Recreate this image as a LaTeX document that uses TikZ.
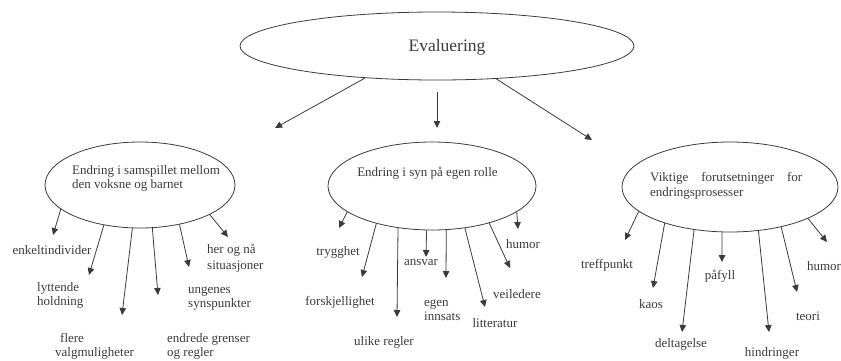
\documentclass[tikz,border=0pt]{standalone}
\usepackage{fontspec}
\setmainfont{Liberation Serif}
\usetikzlibrary{arrows.meta,shapes.geometric}
\definecolor{ink}{HTML}{3A3A3A}
\begin{document}
\begin{tikzpicture}[x=1pt,y=-1pt,
  ell/.style={draw=ink, line width=0.8pt, ellipse, inner sep=0pt},
  lbl/.style={text=ink, font=\fontsize{13}{14.5}\selectfont, inner sep=0pt, align=left},
  arr/.style={draw=ink, line width=0.8pt, -{Triangle[length=7pt,width=6.5pt]}}]
\useasboundingbox (0,0) rectangle (841,360);

% ellipses
\node[ell, minimum width=394pt, minimum height=68pt] (E) at (437,46) {};
\node[lbl, font=\fontsize{17.5}{20}\selectfont] (Et) at (447,47) {Evaluering};
\node[ell, minimum width=190pt, minimum height=86pt] (L) at (140,185) {};
\node[lbl, anchor=west, font=\fontsize{13}{13.5}\selectfont] (Lt) at (72,178.5) {Endring i samspillet mellom\\den voksne og barnet};
\node[ell, minimum width=208pt, minimum height=88pt] (M) at (432,186) {};
\node[lbl] (Mt) at (427.5,173) {Endring i syn på egen rolle};
\node[ell, minimum width=216pt, minimum height=90pt] (R) at (730,187) {};
\node[lbl, anchor=west, font=\fontsize{13}{15}\selectfont] (Rt) at (650,185.5) {\makebox[152pt][s]{Viktige forutsetninger for}\\endringsprosesser};

% top arrows
\coordinate (Ea) at (275,128);
\coordinate (Eb) at (437,128);
\coordinate (Ec) at (592,140);
\draw[arr] (E.-156.7) -- (Ea);
\draw[arr] ([yshift=-12pt]E.south) -- (Eb);
\draw[arr] (E.-29.5) -- (Ec);

% left arrows
\foreach \a/\x/\y [count=\i] in {-163.4/53/235, -132.1/89/275, -100.8/122/315, -74.1/158/295, -45/189/267, -23/228/237}
  {\coordinate (L\i) at (\x,\y); \draw[arr] (L.\a) -- (L\i);}
% middle arrows
\foreach \a/\x/\y [count=\i] in {-163/339/228, -146.8/362/277, -129.1/397/317, -97.8/426/257, -72.3/446/278, -52.9/485/307, -33.2/510/268, -17/518/229}
  {\coordinate (M\i) at (\x,\y); \draw[arr] (M.\a) -- (M\i);}
% right arrows
\foreach \a/\x/\y [count=\i] in {-165.1/625/240, -151.8/653/288, -130.3/682/332, -100.8/722/262, -57.4/769/332, -38.4/797/292, -22/827/242}
  {\coordinate (R\i) at (\x,\y); \draw[arr] (R.\a) -- (R\i);}

% left labels
\node[lbl] (l1) at (52,250) {enkeltindivider};
\node[lbl, anchor=west] (l2) at (37,295.5) {lyttende\\holdning};
\node[lbl, anchor=west, font=\fontsize{13}{13.5}\selectfont] (l3) at (55,346.5) {\hspace*{5pt}flere\\valgmuligheter};
\node[lbl, anchor=west, font=\fontsize{13}{13.5}\selectfont] (l4) at (167,346.5) {endrede grenser\\og regler};
\node[lbl, anchor=west] (l5) at (188,298.5) {ungenes\\synspunkter};
\node[lbl, anchor=west, font=\fontsize{13}{16}\selectfont] (l6) at (207,258) {her og nå\\situasjoner};

% middle labels
\node[lbl] (m1) at (338,252) {trygghet};
\node[lbl] (m2) at (340,302) {forskjellighet};
\node[lbl] (m3) at (384,342) {ulike regler};
\node[lbl] (m4) at (421,262) {ansvar};
\node[lbl, anchor=west] (m5) at (424,310) {egen\\innsats};
\node[lbl] (m6) at (495,323) {litteratur};
\node[lbl] (m7) at (517,294) {veiledere};
\node[lbl] (m8) at (523,244) {humor};

% right labels
\node[lbl] (r1) at (607,265) {treffpunkt};
\node[lbl] (r2) at (651,304) {kaos};
\node[lbl] (r3) at (681,344) {deltagelse};
\node[lbl] (r4) at (720,276) {påfyll};
\node[lbl] (r5) at (772,353) {hindringer};
\node[lbl] (r6) at (808,316) {teori};
\node[lbl] (r7) at (824,266) {humor};
\end{tikzpicture}
\end{document}
